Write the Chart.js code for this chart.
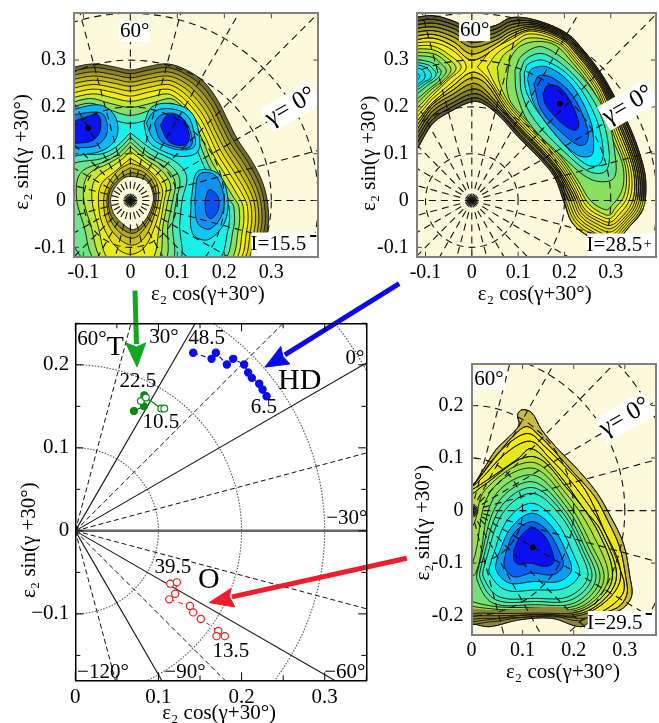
<!DOCTYPE html>
<html>
<head>
<meta charset="utf-8">
<title>Shape coexistence maps</title>
<script src="https://cdn.jsdelivr.net/npm/chart.js@4"></script>
<style>
    html, body { margin: 0; padding: 0; background: #fff; overflow: hidden; width: 659px; height: 723px; }
    canvas { position: absolute; }
</style>
</head>
<body>
<canvas id="mainPanel" width="659" height="723" style="left:0;top:0"></canvas>
<canvas id="panelT" width="335" height="310" style="left:0;top:0"></canvas>
<canvas id="panelHD" width="316" height="310" style="left:345px;top:0"></canvas>
<canvas id="panelO" width="261" height="373" style="left:400px;top:350px"></canvas>
<script>
// ---- main panel data
const hdX = [.1418, .1639, .1691, .1823, .1899, .2031, .2079, .2123, .2212, .2252, .23];
const hdY = [.2145, .2072, .2145, .2004, .2072, .2004, .1907, .1843, .1771, .1702, .1622];
const tFilledX = [.0705, .0825, .0829];
const tFilledY = [.1445, .1501, .1634];
const tOpenX = [.0789, .0849, .1034, .107];
const tOpenY = [.1565, .1606, .1473, .1473];
const oX = [.1142, .1222, .1202, .113, .1378, .1418, .151, .1719, .1699, .1799];
const oY = [-.0636, -.062, -.0757, -.0825, -.0905, -.0982, -.1062, -.1207, -.1268, -.1268];
const mainTicksX = [0, .05, .1, .15, .2, .25, .3, .35];
const mainLabelsX = ["0", "", "0.1", "", "0.2", "", "0.3", ""];
const mainTicksY = [-.15, -.1, -.05, 0, .05, .1, .15, .2, .25];
const mainLabelsY = ["", "\u22120.1", "", "0", "", "0.1", "", "0.2", ""];
const solidAngles = [60, 30, -30, -60];
const dashedAngles = [75, 45, 15, -15, -45, -75];
const mainRadii = [.1, .2, .3, .4];

// arrows, in the main panel's axis units
const greenShaft = [[.0718, .2893], [.0736, .225]];
const greenHead = [[.0742, .1975], [.0607, .2264], [.0737, .2215], [.0847, .2264]];
const blueShaft = [[.3895, .2977], [.252, .2121]];
const blueHead = [[.228, .1972], [.2472, .2221], [.2495, .2105], [.2581, .201]];
const redShaft = [[.3987, -.033], [.1885, -.0795]];
const redHead = [[.1611, -.0864], [.1871, -.0695], [.1855, -.0795], [.1919, -.0917]];

// ---- contour panels shared
const gridAngles = [0, 15, 30, 45, 60, 75, 90, 105, 120, 135, 150, 165, 180, 195, 210, 225, 240, 255, 270, 285, 300, 315, 330, 345];
const gridRadii = [.1, .2, .3, .4];
const panelTicks = [-.1, 0, .1, .2, .3];
const panelLabels = ["-0.1", "0", "0.1", "0.2", "0.3"];
const panelTicksO = [-.2, -.1, 0, .1, .2];
const panelLabelsOY = ["-0.2", "-0.1", "0", "0.1", "0.2"];
const panelTicksOX = [0, .1, .2, .3];
const panelLabelsOX = ["0", "0.1", "0.2", "0.3"];

// ---- I=15.5 surface (triaxial): outer ring, hill round the origin, three wells
const tOuter = [
    [[-.13,.283],[-.079,.292],[-.036,.286],[0,.279],[.036,.286],[.079,.292],[.121,.278],[.157,.253],[.186,.214],[.207,.172],[.229,.129],[.257,.087],[.282,.037],[.293,-.013],[.292,-.062],[.27,-.13],[-.13,-.13]],
    [[-.13,.275],[-.079,.284],[-.036,.278],[0,.271],[.036,.278],[.079,.284],[.118,.27],[.151,.246],[.179,.209],[.2,.167],[.222,.124],[.25,.082],[.275,.034],[.286,-.013],[.285,-.062],[.262,-.13],[-.13,-.13]],
    [[-.13,.266],[-.079,.275],[-.036,.269],[0,.262],[.036,.269],[.079,.275],[.115,.262],[.146,.238],[.173,.203],[.193,.162],[.215,.119],[.243,.077],[.268,.03],[.279,-.013],[.278,-.062],[.255,-.13],[-.13,-.13]],
    [[-.13,.257],[-.079,.266],[-.036,.26],[0,.253],[.036,.26],[.079,.266],[.112,.254],[.141,.23],[.167,.196],[.187,.156],[.208,.114],[.236,.072],[.261,.026],[.272,-.013],[.271,-.062],[.248,-.13],[-.13,-.13]],
    [[-.13,.248],[-.079,.257],[-.036,.251],[0,.244],[.036,.251],[.079,.257],[.109,.245],[.136,.222],[.161,.189],[.18,.15],[.201,.109],[.228,.067],[.254,.022],[.265,-.013],[.264,-.062],[.24,-.13],[-.13,-.13]],
    [[-.13,.238],[-.079,.248],[-.036,.241],[0,.234],[.036,.241],[.079,.248],[.106,.236],[.131,.213],[.155,.182],[.174,.144],[.194,.103],[.22,.062],[.246,.018],[.257,-.013],[.256,-.062],[.232,-.13],[-.13,-.13]],
    [[-.13,.228],[-.079,.238],[-.036,.231],[0,.223],[.036,.231],[.079,.238],[.104,.226],[.127,.204],[.149,.175],[.168,.138],[.187,.097],[.212,.057],[.238,.014],[.249,-.013],[.248,-.062],[.224,-.13],[-.13,-.13]],
    [[-.13,.218],[-.079,.228],[-.04,.22],[0,.212],[.04,.22],[.079,.228],[.102,.216],[.123,.195],[.143,.167],[.161,.132],[.18,.091],[.204,.052],[.229,.01],[.24,-.013],[.239,-.062],[.215,-.13],[-.13,-.13]],
    [[-.13,.208],[-.085,.218],[-.045,.208],[0,.199],[.045,.208],[.085,.218],[.106,.205],[.125,.185],[.14,.158],[.156,.124],[.172,.085],[.195,.047],[.22,.006],[.231,-.013],[.23,-.062],[.205,-.13],[-.13,-.13]],
    [[-.13,.198],[-.085,.208],[-.05,.196],[0,.182],[.05,.196],[.085,.208],[.108,.196],[.123,.175],[.135,.148],[.15,.115],[.164,.08],[.185,.042],[.21,.002],[.22,-.013],[.219,-.062],[.192,-.13],[-.13,-.13]],
    [[-.13,.19],[-.085,.2],[-.05,.178],[0,.165],[.05,.178],[.085,.2],[.108,.19],[.122,.165],[.128,.14],[.142,.108],[.156,.075],[.175,.04],[.2,-.002],[.21,-.013],[.208,-.062],[.18,-.13],[-.13,-.13]]
];
const tOuterColors = ["#6e6a2a", "#8a8428", "#a8a020", "#c0b818", "#d8d014", "#e8e010", "#f2ec14", "#c4e838", "#88e068", "#48e8b8", "#18f0e8"];
const tHill = [
    [[0,.145],[.045,.11],[.1,.08],[.12,.05],[.11,0],[.105,-.05],[.1,-.13],[-.13,-.13],[-.13,.09],[-.06,.1],[-.03,.115]],
    [[0,.135],[.04,.1],[.085,.075],[.105,.045],[.098,0],[.09,-.05],[.085,-.13],[-.09,-.13],[-.13,-.06],[-.13,.07],[-.06,.09],[-.03,.105]],
    [[0,.125],[.035,.095],[.075,.07],[.095,.04],[.09,0],[.08,-.05],[.07,-.13],[-.07,-.13],[-.1,-.05],[-.115,.01],[-.105,.06],[-.05,.085],[-.025,.1]],
    [[0,.115],[.03,.09],[.065,.065],[.085,.035],[.08,0],[.07,-.05],[.055,-.13],[-.055,-.13],[-.085,-.05],[-.1,.01],[-.09,.055],[-.045,.08],[-.02,.095]],
    [[0,.105],[.027,.085],[.058,.06],[.076,.03],[.072,0],[.062,-.055],[.042,-.13],[-.042,-.13],[-.07,-.05],[-.082,.005],[-.075,.045],[-.04,.072],[-.018,.088]],
    [[0,.09],[.025,.075],[.05,.055],[.068,.025],[.065,-.005],[.054,-.05],[.03,-.1],[0,-.115],[-.03,-.1],[-.058,-.055],[-.068,-.005],[-.062,.035],[-.035,.06]],
    [[0,.08],[.03,.068],[.055,.04],[.06,.005],[.05,-.035],[.033,-.075],[.008,-.095],[-.02,-.085],[-.048,-.05],[-.057,-.005],[-.05,.03],[-.025,.065]],
    [[0,.07],[.03,.06],[.05,.035],[.055,.005],[.047,-.03],[.03,-.06],[.008,-.08],[-.018,-.072],[-.042,-.042],[-.05,-.002],[-.043,.028],[-.02,.058]],
    [[.005,.06],[.033,.05],[.052,.012],[.046,-.022],[.03,-.052],[.007,-.07],[-.016,-.062],[-.04,-.035],[-.047,.001],[-.04,.027],[-.016,.052]],
    [[-.043,.001],[-.036,.023],[-.014,.048],[.007,.051],[.036,.041],[.049,.009],[.043,-.02],[.029,-.045],[.007,-.062],[-.014,-.052],[-.036,-.027]]
];
const tHillColors = ["#48e8b8", "#70e488", "#98e05c", "#c4e838", "#e8ec18", "#e4dc10", "#c8c014", "#b0a81e", "#8a8424", "#fdfadb"];
const tWells = [
    [[.029,.165],[.046,.2],[.086,.207],[.129,.189],[.146,.143],[.143,.104],[.107,.094],[.071,.105],[.039,.126]],
    [[.034,.165],[.05,.19],[.086,.196],[.121,.182],[.136,.143],[.136,.115],[.107,.108],[.079,.115],[.05,.13]],
    [[.051,.165],[.064,.182],[.093,.186],[.118,.168],[.132,.129],[.125,.113],[.093,.115],[.064,.129]],
    [[.064,.161],[.079,.182],[.107,.179],[.125,.143],[.121,.122],[.1,.118],[.079,.129]],
    [[-.13,.193],[-.064,.204],[-.032,.179],[-.029,.136],[-.057,.108],[-.107,.097],[-.13,.097]],
    [[-.13,.182],[-.071,.189],[-.054,.179],[-.05,.143],[-.071,.118],[-.107,.113],[-.13,.115]],
    [[-.13,.165],[-.093,.179],[-.068,.182],[-.064,.15],[-.079,.129],[-.107,.123],[-.13,.126]],
    [[.129,.001],[.143,.062],[.186,.058],[.207,.009],[.2,-.048],[.164,-.084],[.132,-.07]],
    [[.137,.001],[.146,.055],[.179,.055],[.199,.009],[.193,-.034],[.168,-.061],[.143,-.048]],
    [[.159,.001],[.168,.023],[.186,.009],[.187,-.02],[.171,-.039],[.161,-.027]]
];
const tWellColors = ["#10dcf4", "#10b8f0", "#0a80f0", "#0a14f0", "#10b8f0", "#0a80f0", "#0a14f0", "#10c8f0", "#1090f0", "#0a50f0"];
const tMinimum = [[-.09, .155]];

// ---- I=28.5 surface: banana shaped ridge, then the right and left lobes
const hdRidge = [
    [[-.13,.39],[-.084,.395],[-.041,.384],[0,.367],[.051,.374],[.086,.391],[.143,.384],[.207,.356],[.242,.32],[.27,.285],[.295,.246],[.341,.157],[.369,.079],[.376,.03],[.369,-.02],[.341,-.055],[.3,-.095],[.253,-.077],[.217,-.048],[.2,-.006],[.178,.051],[.143,.093],[.1,.136],[.058,.182],[.023,.208],[0,.211],[-.041,.193],[-.084,.165],[-.13,.1]],
    [[-.13,.382],[-.084,.387],[-.041,.376],[0,.358],[.051,.366],[.086,.383],[.141,.381],[.205,.354],[.24,.318],[.268,.283],[.293,.244],[.338,.155],[.365,.079],[.372,.03],[.365,-.018],[.338,-.052],[.3,-.088],[.258,-.072],[.222,-.044],[.204,-.003],[.181,.054],[.146,.096],[.103,.139],[.061,.185],[.023,.215],[0,.219],[-.041,.201],[-.084,.174],[-.13,.115]],
    [[-.13,.374],[-.084,.379],[-.041,.368],[0,.348],[.051,.358],[.086,.376],[.139,.378],[.203,.352],[.238,.316],[.266,.281],[.291,.242],[.334,.153],[.361,.079],[.368,.03],[.361,-.016],[.335,-.049],[.3,-.081],[.262,-.067],[.226,-.04],[.208,.001],[.183,.056],[.148,.098],[.105,.141],[.063,.187],[.023,.223],[0,.228],[-.041,.209],[-.084,.183],[-.13,.125]],
    [[-.13,.366],[-.084,.371],[-.041,.359],[0,.338],[.051,.35],[.086,.369],[.137,.375],[.201,.35],[.236,.314],[.264,.279],[.289,.24],[.331,.151],[.357,.079],[.364,.03],[.357,-.014],[.332,-.046],[.3,-.074],[.266,-.062],[.23,-.036],[.212,.005],[.186,.059],[.151,.101],[.108,.144],[.066,.19],[.023,.232],[0,.238],[-.041,.218],[-.084,.192],[-.13,.135]],
    [[-.13,.358],[-.084,.363],[-.041,.35],[0,.328],[.051,.342],[.086,.362],[.135,.372],[.199,.348],[.234,.312],[.262,.277],[.287,.238],[.327,.149],[.353,.079],[.36,.03],[.353,-.012],[.329,-.043],[.3,-.067],[.27,-.057],[.234,-.032],[.216,.009],[.188,.061],[.153,.103],[.11,.146],[.068,.192],[.023,.242],[0,.25],[-.041,.227],[-.084,.2],[-.13,.145]],
    [[-.13,.35],[-.084,.355],[-.041,.34],[0,.313],[.051,.334],[.086,.356],[.133,.369],[.197,.346],[.232,.31],[.26,.275],[.285,.236],[.324,.147],[.349,.079],[.356,.03],[.349,-.01],[.326,-.04],[.3,-.06],[.274,-.052],[.238,-.028],[.219,.013],[.19,.063],[.155,.105],[.112,.148],[.07,.194],[.03,.25],[0,.262],[-.041,.236],[-.084,.206],[-.13,.155]],
    [[-.13,.342],[-.084,.347],[-.041,.33],[0,.3],[.051,.325],[.086,.35],[.131,.365],[.195,.344],[.23,.308],[.258,.273],[.283,.234],[.32,.145],[.345,.079],[.352,.032],[.345,-.006],[.323,-.036],[.3,-.053],[.278,-.047],[.242,-.024],[.222,.017],[.193,.066],[.158,.108],[.115,.151],[.073,.197],[.03,.26],[0,.274],[-.041,.245],[-.084,.21],[-.13,.165]]
];
const hdRidgeColors = ["#5e5a2a", "#6e6a2a", "#85802a", "#a09a22", "#c0b818", "#dcd410", "#f0ea10"];
// the part of the ridge below y = 0 is light yellow in the figure
const hdTip = [[.201,0],[.374,0],[.367,-.02],[.34,-.054],[.3,-.093],[.254,-.076],[.218,-.047]];
const hdRightLobe = [
    [[.012,.285],[.04,.318],[.086,.345],[.128,.362],[.192,.341],[.227,.305],[.255,.27],[.28,.231],[.316,.142],[.34,.079],[.346,.034],[.339,-.002],[.318,-.03],[.3,-.046],[.281,-.042],[.245,-.02],[.224,.022],[.196,.069],[.161,.111],[.118,.154],[.076,.2],[.035,.262]],
    [[.033,.285],[.055,.315],[.086,.335],[.125,.356],[.189,.338],[.224,.302],[.252,.267],[.277,.228],[.312,.139],[.335,.079],[.34,.036],[.333,.002],[.313,-.024],[.3,-.038],[.284,-.036],[.249,-.014],[.226,.028],[.199,.072],[.164,.114],[.121,.157],[.079,.203],[.045,.258]],
    [[.055,.285],[.068,.31],[.086,.324],[.122,.347],[.186,.335],[.221,.299],[.249,.264],[.274,.225],[.308,.136],[.33,.079],[.334,.038],[.327,.006],[.308,-.018],[.3,-.03],[.287,-.03],[.253,-.008],[.228,.034],[.202,.075],[.167,.117],[.124,.16],[.082,.206],[.06,.25]],
    [[.079,.282],[.084,.305],[.105,.33],[.143,.34],[.182,.331],[.217,.295],[.245,.26],[.27,.221],[.303,.133],[.325,.079],[.328,.04],[.32,.012],[.302,-.011],[.29,-.02],[.257,-.001],[.231,.04],[.205,.078],[.17,.12],[.127,.163],[.085,.209],[.075,.245]],
    [[.093,.278],[.108,.31],[.154,.328],[.231,.271],[.288,.189],[.309,.1],[.306,.047],[.26,.044],[.2,.09],[.125,.164],[.097,.228]],
    [[.104,.274],[.118,.303],[.157,.313],[.224,.264],[.277,.186],[.297,.1],[.288,.062],[.253,.062],[.2,.104],[.136,.171],[.108,.228]],
    [[.113,.271],[.122,.292],[.157,.299],[.217,.26],[.267,.179],[.284,.1],[.274,.076],[.249,.076],[.207,.111],[.15,.179],[.118,.232]],
    [[.12,.26],[.129,.281],[.164,.285],[.214,.249],[.256,.171],[.263,.111],[.256,.095],[.228,.097],[.185,.136],[.136,.203]],
    [[.134,.249],[.146,.267],[.178,.26],[.217,.225],[.249,.157],[.249,.125],[.231,.118],[.192,.147],[.15,.193]],
    [[.154,.228],[.164,.246],[.189,.242],[.214,.21],[.231,.164],[.224,.15],[.2,.161],[.171,.189],[.157,.21]]
];
const hdRightColors = ["#f4ee10", "#d8ea20", "#b4e438", "#88e060", "#60e090", "#30ecc8", "#00f0f8", "#0aa0f0", "#0a60f0", "#0a10f0"];
const hdLeftLobe = [
    [[-.13,.336],[-.084,.338],[-.04,.32],[-.012,.285],[-.04,.255],[-.084,.218],[-.13,.175]],
    [[-.13,.33],[-.084,.33],[-.05,.312],[-.023,.285],[-.05,.258],[-.084,.225],[-.13,.185]],
    [[-.13,.324],[-.084,.322],[-.055,.306],[-.034,.283],[-.055,.258],[-.084,.232],[-.13,.195]],
    [[-.13,.317],[-.084,.314],[-.06,.3],[-.045,.28],[-.06,.258],[-.084,.24],[-.13,.205]],
    [[-.13,.31],[-.084,.306],[-.068,.294],[-.055,.277],[-.068,.258],[-.084,.245],[-.13,.215]],
    [[-.13,.303],[-.09,.296],[-.075,.287],[-.066,.274],[-.075,.26],[-.09,.25],[-.13,.225]],
    [[-.13,.297],[-.095,.29],[-.083,.28],[-.077,.27],[-.083,.26],[-.095,.253],[-.13,.232]],
    [[-.13,.292],[-.1,.285],[-.09,.275],[-.087,.268],[-.09,.26],[-.1,.255],[-.13,.238]],
    [[-.13,.285],[-.108,.28],[-.101,.268],[-.105,.257],[-.13,.245]],
    [[-.13,.278],[-.115,.27],[-.112,.265],[-.117,.258],[-.13,.252]]
];
const hdLeftColors = ["#f4ee10", "#d8ea20", "#b4e438", "#98e050", "#78e070", "#50e8a0", "#30ecc8", "#10e8e8", "#00e8f8", "#00d8f8"];
const hdMinimum = [[.19, .207]];

// ---- I=29.5 surface: one well
const oLevels = [
    [[-.02,.04],[0,.046],[.023,.078],[.048,.116],[.074,.141],[.093,.163],[.09,.182],[.099,.192],[.118,.186],[.137,.154],[.17,.116],[.208,.078],[.246,.033],[.272,-.011],[.297,-.062],[.31,-.126],[.313,-.164],[.29,-.19],[.24,-.205],[.214,-.221],[.157,-.205],[.093,-.208],[.035,-.221],[0,-.215],[-.02,-.215]],
    [[-.02,.03],[0,.046],[.03,.08],[.06,.118],[.085,.145],[.108,.16],[.13,.145],[.163,.112],[.2,.072],[.24,.028],[.266,-.018],[.29,-.07],[.302,-.128],[.304,-.16],[.285,-.185],[.235,-.2],[.21,-.21],[.157,-.2],[.093,-.204],[.035,-.212],[-.02,-.21]],
    [[-.02,.033],[.005,.05],[.05,.107],[.09,.14],[.115,.146],[.14,.125],[.18,.087],[.222,.04],[.256,-.03],[.297,-.13],[.295,-.16],[.26,-.19],[.22,-.205],[.157,-.198],[.093,-.2],[.03,-.208],[-.02,-.205]],
    [[-.02,.035],[.01,.052],[.067,.109],[.115,.132],[.15,.103],[.2,.049],[.259,-.037],[.291,-.132],[.227,-.195],[.125,-.202],[.023,-.205],[-.02,-.2]],
    [[-.02,.028],[.015,.048],[.09,.098],[.118,.118],[.17,.07],[.22,.003],[.254,-.04],[.283,-.132],[.225,-.192],[.125,-.198],[.023,-.2],[-.02,-.195]],
    [[-.02,.02],[0,.03],[.019,.045],[.118,.103],[.189,.04],[.249,-.043],[.275,-.132],[.22,-.189],[.125,-.195],[.023,-.195],[-.02,-.19]],
    [[-.02,-.03],[.002,-.03],[.027,.04],[.118,.092],[.187,.03],[.241,-.052],[.267,-.132],[.217,-.186],[.125,-.192],[.026,-.19],[-.02,-.18]],
    [[-.02,-.1],[.002,-.1],[.035,.033],[.118,.081],[.185,.02],[.233,-.062],[.259,-.132],[.214,-.183],[.125,-.189],[.029,-.186],[-.02,-.17]],
    [[-.02,-.12],[.008,-.12],[.043,.024],[.118,.068],[.182,.012],[.228,-.068],[.251,-.132],[.207,-.18],[.125,-.184],[.035,-.181],[-.02,-.16]],
    [[.015,-.103],[.051,.014],[.118,.055],[.179,.005],[.224,-.075],[.243,-.132],[.201,-.176],[.125,-.179],[.042,-.176],[.011,-.132]],
    [[.02,-.1],[.056,.005],[.118,.044],[.176,-.001],[.219,-.078],[.235,-.13],[.195,-.17],[.125,-.173],[.048,-.17],[.017,-.129]],
    [[.026,-.1],[.061,-.005],[.118,.033],[.173,-.008],[.214,-.081],[.227,-.129],[.189,-.164],[.125,-.167],[.054,-.164],[.023,-.126]],
    [[.039,-.094],[.07,-.018],[.118,.014],[.166,-.021],[.201,-.087],[.211,-.122],[.182,-.148],[.125,-.151],[.067,-.151],[.035,-.119]],
    [[.051,-.087],[.077,-.033],[.118,-.005],[.157,-.03],[.189,-.087],[.195,-.116],[.17,-.135],[.122,-.135],[.074,-.138],[.048,-.113]],
    [[.067,-.081],[.083,-.043],[.118,-.021],[.15,-.04],[.176,-.087],[.179,-.106],[.16,-.122],[.118,-.119],[.083,-.126],[.064,-.106]],
    [[.083,-.075],[.096,-.049],[.118,-.033],[.141,-.046],[.157,-.075],[.16,-.1],[.141,-.106],[.115,-.1],[.093,-.103],[.083,-.094]]
];
const oLevelColors = ["#c8bc40", "#f0e418", "#f4ea10", "#e4e818", "#d0e428", "#b8e034", "#a0e048", "#88e05c", "#70e278", "#58e698", "#40eab4", "#30ecc8", "#00f0f8", "#0aa0f0", "#0a60f0", "#0a10f0"];
// dense lines along the bottom of the map read as an olive band
const oBottomBand = [[-.01,-.186],[.06,-.19],[.157,-.183],[.217,-.195],[.24,-.204],[.214,-.22],[.157,-.204],[.093,-.207],[.035,-.22],[0,-.214],[-.01,-.214]];
const oMinimum = [[.12, -.07]];

// ---- helpers
const CREAM = "#fdfadb";
const FONT = "'Liberation Serif', serif";

function toPoints(list) {
    return list.map(p => ({ x: p[0], y: p[1] }));
}

function zipPoints(xs, ys) {
    return xs.map((x, i) => ({ x: x, y: ys[i] }));
}

// closed filled contour
function contour(list, color) {
    return {
        data: toPoints(list.concat([list[0]])),
        showLine: true,
        fill: "shape",
        backgroundColor: color,
        borderColor: "#111",
        borderWidth: 0.9,
        pointRadius: 0,
        tension: 0.35,
        capBezierPoints: false
    };
}

function contours(polys, colors) {
    return polys.map((p, i) => contour(p, colors[i]));
}

// fill with no outline, for the colour overlays
function patch(list, color) {
    let d = contour(list, color);
    d.borderWidth = 0;
    return d;
}

// same contour again, outline only
function outlines(polys) {
    return polys.map(p => {
        let d = contour(p, "transparent");
        d.fill = false;
        return d;
    });
}

function polarRay(angle, color, width, dash) {
    let a = angle * Math.PI / 180;
    return {
        data: [{ x: 0, y: 0 }, { x: .7 * Math.cos(a), y: .7 * Math.sin(a) }],
        showLine: true, borderColor: color, borderWidth: width, borderDash: dash, pointRadius: 0
    };
}

function polarArc(r, color, width, dash) {
    let pts = [];
    for (let d = 0; d <= 360; d += 3) {
        pts.push({ x: r * Math.cos(d * Math.PI / 180), y: r * Math.sin(d * Math.PI / 180) });
    }
    return { data: pts, showLine: true, borderColor: color, borderWidth: width, borderDash: dash, pointRadius: 0 };
}

function dashedGrid() {
    let sets = [];
    gridRadii.forEach(r => sets.push(polarArc(r, "#111", 1.1, [7, 5])));
    gridAngles.forEach(a => sets.push(polarRay(a, "#111", 1.1, [7, 5])));
    return sets;
}

function minimumDot(list) {
    return { data: toPoints(list), pointRadius: 2.5, pointBackgroundColor: "#000", pointBorderColor: "#000" };
}

function arrowShaft(list, color) {
    return { data: toPoints(list), showLine: true, borderColor: color, borderWidth: 5, pointRadius: 0, clip: false };
}

function arrowHead(list, color) {
    return {
        data: toPoints(list.concat([list[0]])), showLine: true, fill: "shape",
        backgroundColor: color, borderColor: color, borderWidth: 1, pointRadius: 0
    };
}

// inward tick marks on all four sides
function drawTicks(chart, tickColor, major, minor) {
    let ctx = chart.ctx;
    let a = chart.chartArea;
    ctx.save();
    ctx.strokeStyle = tickColor;
    ctx.lineWidth = 1;
    ctx.beginPath();
    chart.scales.x.ticks.forEach(t => {
        let len = t.label === "" ? minor : major;
        let px = chart.scales.x.getPixelForValue(t.value);
        ctx.moveTo(px, a.bottom);
        ctx.lineTo(px, a.bottom - len);
        ctx.moveTo(px, a.top);
        ctx.lineTo(px, a.top + len);
    });
    chart.scales.y.ticks.forEach(t => {
        let len = t.label === "" ? minor : major;
        let py = chart.scales.y.getPixelForValue(t.value);
        ctx.moveTo(a.left, py);
        ctx.lineTo(a.left + len, py);
        ctx.moveTo(a.right, py);
        ctx.lineTo(a.right - len, py);
    });
    ctx.stroke();
    ctx.restore();
}

// background, tick marks and text placed in axis units (optional white box behind it)
function textPlugin(items, box, background) {
    return {
        id: "panelText",
        beforeDatasetsDraw(chart) {
            if (!background) return;
            let a = chart.chartArea;
            chart.ctx.fillStyle = background;
            chart.ctx.fillRect(a.left, a.top, a.right - a.left, a.bottom - a.top);
        },
        afterDatasetsDraw(chart) {
            let ctx = chart.ctx;
            drawTicks(chart, box.tickColor, box.tickMajor, box.tickMinor);
            items.forEach(t => {
                ctx.save();
                ctx.translate(chart.scales.x.getPixelForValue(t.x), chart.scales.y.getPixelForValue(t.y));
                ctx.rotate((t.rot || 0) * Math.PI / 180);
                if (t.box) {
                    ctx.fillStyle = "#fff";
                    ctx.fillRect(-t.box[0] / 2, -t.box[1] / 2, t.box[0], t.box[1]);
                }
                ctx.fillStyle = "#000";
                ctx.font = (t.bold ? "bold " : "") + t.size + "px " + FONT;
                ctx.textAlign = "center";
                ctx.textBaseline = "middle";
                ctx.fillText(t.text, t.dx || 0, 0);
                ctx.restore();
            });
        }
    };
}

function axisPair(min, max, ticks, labels, size, frame, frameWidth, outer, padding) {
    let border = { color: frame, width: frameWidth, z: 1 };
    let grid = { display: false, tickLength: 0, drawTicks: false };
    let setTicks = scale => { scale.ticks = ticks.map(v => ({ value: v })); };
    return {
        main: {
            type: "linear", min: min, max: max, border: border, grid: grid,
            afterBuildTicks: setTicks,
            afterFit: scale => {
                if (scale.isHorizontal()) { scale.height = outer; } else { scale.width = outer; }
                // tick labels must not push the plot area about, its frame is given
                scale.paddingTop = scale.paddingBottom = scale.paddingLeft = scale.paddingRight = 0;
            },
            ticks: {
                autoSkip: false, maxRotation: 0, minRotation: 0, padding: padding, color: "#000",
                font: { family: FONT, size: size }, callback: (v, i) => labels[i]
            }
        },
        mirror: {
            type: "linear", min: min, max: max, border: border, grid: grid,
            afterBuildTicks: setTicks,
            afterFit: scale => { if (scale.isHorizontal()) { scale.height = 0; } else { scale.width = 0; } },
            ticks: { display: false }
        }
    };
}

function buildPanel(id, box, xAxis, yAxis, datasets, texts, background) {
    datasets.forEach((d, i) => { d.order = datasets.length - i; });
    let xa = axisPair(xAxis.min, xAxis.max, xAxis.ticks, xAxis.labels, xAxis.size, box.frame, box.frameWidth, box.height - box.bottom, xAxis.padding);
    let ya = axisPair(yAxis.min, yAxis.max, yAxis.ticks, yAxis.labels, yAxis.size, box.frame, box.frameWidth, box.left, yAxis.padding);
    xa.mirror.position = "top";
    ya.mirror.position = "right";
    xa.main.position = "bottom";
    ya.main.position = "left";
    return new Chart(document.getElementById(id), {
        type: "scatter",
        data: { datasets: datasets },
        options: {
            responsive: false,
            animation: false,
            events: [],
            layout: { padding: { left: 0, top: box.top, right: box.width - box.right, bottom: 0 } },
            scales: { x: xa.main, y: ya.main, x2: xa.mirror, y2: ya.mirror },
            plugins: { legend: { display: false }, tooltip: { enabled: false } }
        },
        plugins: [textPlugin(texts, box, background)]
    });
}

// ---- main panel
let mainSets = [];
mainRadii.forEach(r => mainSets.push(polarArc(r, "#555", 1.1, [1.5, 1.5])));
dashedAngles.forEach(a => mainSets.push(polarRay(a, "#111", 1, [5, 3])));
solidAngles.forEach(a => mainSets.push(polarRay(a, "#111", 1.1, [])));
mainSets.push(polarRay(0, "#666", 2.5, []));
mainSets.push({ data: zipPoints(hdX, hdY), showLine: true, borderColor: "#0a0aee", borderWidth: 1.2, borderDash: [5, 3], pointRadius: 3.6, pointBackgroundColor: "#0a0aee", pointBorderColor: "#0a0aee" });
mainSets.push({ data: zipPoints(tFilledX, tFilledY), showLine: true, borderColor: "#0a8a14", borderWidth: 1.2, pointRadius: 3.4, pointBackgroundColor: "#0a8a14", pointBorderColor: "#0a8a14" });
mainSets.push({ data: zipPoints(tOpenX, tOpenY), showLine: true, borderColor: "#0a8a14", borderWidth: 1.2, pointRadius: 3.4, pointBackgroundColor: "#fff", pointBorderColor: "#0a8a14", pointBorderWidth: 1.2 });
mainSets.push({ data: zipPoints(oX, oY), showLine: true, borderColor: "#ee1c1c", borderWidth: 1, borderDash: [5, 4], pointRadius: 3.6, pointBackgroundColor: "#fff", pointBorderColor: "#ee1c1c", pointBorderWidth: 1.2 });
mainSets.push(arrowShaft(greenShaft, "#12a81e"), arrowHead(greenHead, "#12a81e"));
mainSets.push(arrowShaft(blueShaft, "#0a0aee"), arrowHead(blueHead, "#0a0aee"));
mainSets.push(arrowShaft(redShaft, "#ee1c2c"), arrowHead(redHead, "#ee1c2c"));

const mainTexts = [
    { text: "60\u00b0", x: .02, y: .231, size: 21 },
    { text: "T", x: .048, y: .2205, size: 28 },
    { text: "30\u00b0", x: .1066, y: .2326, size: 21 },
    { text: "48.5", x: .158, y: .2314, size: 21 },
    { text: "22.5", x: .0754, y: .1795, size: 21 },
    { text: "10.5", x: .103, y: .13, size: 21 },
    { text: "6.5", x: .2268, y: .1481, size: 21 },
    { text: "HD", x: .27, y: .1807, size: 30 },
    { text: "0\u00b0", x: .3362, y: .2072, size: 21 },
    { text: "\u221230\u00b0", x: .3266, y: .0153, size: 21 },
    { text: "39.5", x: .1174, y: -.0438, size: 21 },
    { text: "O", x: .1607, y: -.0595, size: 30 },
    { text: "13.5", x: .1871, y: -.1453, size: 21 },
    { text: "\u2212120\u00b0", x: .0333, y: -.1706, size: 21 },
    { text: "\u221290\u00b0", x: .1319, y: -.1706, size: 21 },
    { text: "\u221260\u00b0", x: .3242, y: -.1706, size: 21 },
    { text: "\u03b5\u2082 sin(\u03b3 +30\u00b0)", x: -.0553, y: -.0112, size: 21, rot: -90 },
    { text: "\u03b5\u2082 cos(\u03b3+30\u00b0)", x: .173, y: -.2204, size: 21 }
];

buildPanel("mainPanel",
    { left: 75.3, top: 323.3, right: 366.3, bottom: 680.3, width: 659, height: 723, frame: "#000", frameWidth: 1.5, tickColor: "#000", tickMajor: 8, tickMinor: 5 },
    { min: 0, max: .35, ticks: mainTicksX, labels: mainLabelsX, size: 21, padding: 5 },
    { min: -.18, max: .25, ticks: mainTicksY, labels: mainLabelsY, size: 21, padding: 6 },
    mainSets, mainTexts, null);

const panelBox = { frame: "#808080", frameWidth: 2, tickColor: "#444", tickMajor: 5, tickMinor: 3 };

// ---- I=15.5 panel
buildPanel("panelT",
    Object.assign({ left: 74, top: 13.3, right: 318.3, bottom: 256.7, width: 335, height: 310 }, panelBox),
    { min: -.12, max: .4, ticks: panelTicks, labels: panelLabels, size: 20, padding: 4 },
    { min: -.12, max: .4, ticks: panelTicks, labels: panelLabels, size: 20, padding: 8 },
    contours(tOuter, tOuterColors).concat(contours(tHill, tHillColors), contours(tWells, tWellColors), dashedGrid(), [minimumDot(tMinimum)]),
    [
        { text: "60\u00b0", x: .009, y: .361, size: 21, box: [31, 21] },
        { text: "\u03b3= 0\u00b0", x: .341, y: .2, size: 25, rot: -30, box: [56, 27] },
        { text: "I=15.5", x: .33, y: -.094, size: 21, box: [68, 24], dx: -7 },
        { text: "-", x: .389, y: -.075, size: 24, bold: true },
        { text: "\u03b5\u2082 sin(\u03b3 +30\u00b0)", x: -.229, y: .104, size: 21, rot: -90 },
        { text: "\u03b5\u2082 cos(\u03b3+30\u00b0)", x: .165, y: -.2, size: 21 }
    ], CREAM);

// ---- I=28.5 panel
const hdSets = contours(hdRidge, hdRidgeColors)
    .concat([patch(hdTip, "#e4dc20")], outlines(hdRidge), contours(hdRightLobe, hdRightColors), contours(hdLeftLobe, hdLeftColors), dashedGrid(), [minimumDot(hdMinimum)]);
buildPanel("panelHD",
    Object.assign({ left: 71.7, top: 13.3, right: 315, bottom: 256.7, width: 316, height: 310 }, panelBox),
    { min: -.119, max: .3977, ticks: panelTicks, labels: panelLabels, size: 20, padding: 4 },
    { min: -.12, max: .4, ticks: panelTicks, labels: panelLabels, size: 20, padding: 8 },
    hdSets,
    [
        { text: "60\u00b0", x: .006, y: .363, size: 21, box: [31, 21] },
        { text: "\u03b3= 0\u00b0", x: .337, y: .204, size: 25, rot: -30, box: [56, 27] },
        { text: "I=28.5", x: .323, y: -.096, size: 21, box: [68, 24], dx: -7 },
        { text: "+", x: .38, y: -.094, size: 14 },
        { text: "\u03b5\u2082 sin(\u03b3 +30\u00b0)", x: -.22, y: .101, size: 21, rot: -90 },
        { text: "\u03b5\u2082 cos(\u03b3+30\u00b0)", x: .136, y: -.2, size: 21 }
    ], CREAM);

// ---- I=29.5 panel
const oSets = contours(oLevels, oLevelColors)
    .concat([patch(oBottomBand, "#8c8638")], outlines(oLevels.slice(0, 6)), dashedGrid(), [minimumDot(oMinimum)]);
buildPanel("panelO",
    Object.assign({ left: 71.5, top: 14, right: 260, bottom: 285, width: 261, height: 373 }, panelBox),
    { min: 0, max: .361, ticks: panelTicksOX, labels: panelLabelsOX, size: 20, padding: 4 },
    { min: -.2368, max: .279, ticks: panelTicksO, labels: panelLabelsOY, size: 20, padding: 8 },
    oSets,
    [
        { text: "60\u00b0", x: .034, y: .25, size: 21, box: [32, 22] },
        { text: "\u03b3= 0\u00b0", x: .3, y: .178, size: 25, rot: -30, box: [56, 27] },
        { text: "I=29.5", x: .294, y: -.214, size: 21, box: [68, 24], dx: -7 },
        { text: "-", x: .347, y: -.197, size: 24, bold: true },
        { text: "\u03b5\u2082 sin(\u03b3 +30\u00b0)", x: -.093, y: -.023, size: 21, rot: -90 },
        { text: "\u03b5\u2082 cos(\u03b3+30\u00b0)", x: .179, y: -.308, size: 21 }
    ], CREAM);
</script>
</body>
</html>
